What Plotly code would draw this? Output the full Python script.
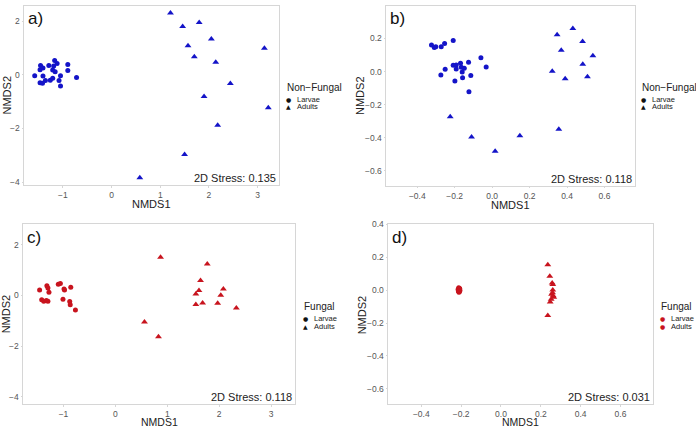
import plotly.graph_objects as go

# ---------------- data ----------------
# Panel a) Non-Fungal (NMDS1, NMDS2)
a_larvae_x = [-1.58, -1.46, -1.47, -1.41, -1.41, -1.47, -1.42, -1.36, -1.29, -1.26, -1.21,
              -1.21, -1.19, -1.17, -1.16, -1.12, -1.05, -1.08, -1.05, -0.90, -0.90, -0.72]
a_larvae_y = [-0.03, 0.35, 0.19, 0.26, -0.04, -0.29, -0.31, -0.21, 0.35, -0.20, -0.13,
              0.18, 0.33, 0.54, 0.12, 0.42, -0.03, -0.21, -0.42, 0.39, 0.16, -0.10]
a_adults_x = [1.21, 1.46, 1.80, 1.57, 2.05, 1.70, 2.14, 2.44, 1.90, 2.18, 1.50, 0.58, 3.14, 3.22]
a_adults_y = [2.31, 1.80, 1.95, 1.09, 1.34, 0.68, 0.47, -0.32, -0.81, -1.88, -2.97, -3.84, 0.99, -1.23]

# Panel b) Non-Fungal
b_larvae_x = [-0.324, -0.309, -0.301, -0.272, -0.254, -0.208, -0.274, -0.251, -0.208, -0.192, -0.192,
              -0.199, -0.169, -0.165, -0.149, -0.160, -0.158, -0.126, -0.114, -0.124, -0.060, -0.032]
b_larvae_y = [0.160, 0.146, 0.150, 0.150, 0.170, 0.188, -0.021, 0.014, 0.038, 0.040, 0.016,
              -0.057, 0.050, 0.026, 0.020, -0.002, -0.037, 0.056, -0.024, -0.122, 0.083, 0.028]
b_adults_x = [-0.224, -0.110, 0.016, 0.148, 0.321, 0.347, 0.369, 0.390, 0.356, 0.431, 0.483, 0.538, 0.484, 0.509]
b_adults_y = [-0.273, -0.397, -0.482, -0.389, 0.002, 0.223, 0.129, -0.043, -0.350, 0.261, 0.182, 0.095, 0.044, -0.031]

# Panel c) Fungal
c_larvae_x = [-1.46, -1.32, -1.30, -1.28, -1.42, -1.38, -1.33, -1.30, -1.10, -1.06, -0.99,
              -0.98, -1.01, -0.86, -0.88, -0.87, -0.77]
c_larvae_y = [0.22, 0.39, 0.30, 0.13, -0.17, -0.23, -0.20, -0.23, 0.44, 0.47, 0.26,
              0.22, -0.15, 0.33, -0.24, -0.37, -0.57]
c_adults_x = [0.87, 0.56, 0.83, 1.77, 1.64, 1.61, 1.55, 1.55, 1.68, 2.08, 2.03, 1.97, 2.33]
c_adults_y = [1.51, -1.05, -1.63, 1.24, 0.59, 0.20, 0.06, -0.36, -0.30, 0.26, 0.01, -0.31, -0.49]

# Panel d) Fungal
d_larvae_x = [-0.212, -0.208, -0.215, -0.210, -0.206, -0.213, -0.209, -0.211, -0.207, -0.214]
d_larvae_y = [0.014, 0.010, 0.006, 0.002, -0.002, -0.006, -0.010, -0.013, 0.008, -0.004]
d_adults_x = [0.235, 0.245, 0.257, 0.260, 0.260, 0.254, 0.262, 0.252, 0.247, 0.235, 0.265, 0.259]
d_adults_y = [0.154, 0.085, 0.043, 0.034, 0.000, -0.025, -0.035, -0.055, -0.073, -0.154, -0.043, -0.016]

panel_labels = ["a)", "b)", "c)", "d)"]
stress_labels = ["2D Stress: 0.135", "2D Stress: 0.118", "2D Stress: 0.118", "2D Stress: 0.031"]
legend_titles = ["Non\u2212Fungal", "Non\u2212Fungal", "Fungal", "Fungal"]
group_names = ["Larvae", "Adults"]

BLUE = "#1414c8"
RED = "#c8141e"
W, H = 696, 429
FONT = "Liberation Sans, Arial, sans-serif"


def px(x):
    return x / W


def py(y):
    return 1 - y / H


fig = go.Figure()

# panel geometry (page pixels): left, right, top, bottom
panels = [
    dict(box=(24, 279, 1, 183), xr=[-1.80, 3.44], yr=[-4.11, 2.57], dx=1, dy=2, fmt=None,
         lx=a_larvae_x, ly=a_larvae_y, ax_=a_adults_x, ay_=a_adults_y, color=BLUE,
         leg=(285, 84), syms=["\u25CF", "\u25B2"]),
    dict(box=(386, 635, 1, 184), xr=[-0.567, 0.763], yr=[-0.693, 0.397], dx=0.2, dy=0.2, fmt=".1f",
         lx=b_larvae_x, ly=b_larvae_y, ax_=b_adults_x, ay_=b_adults_y, color=BLUE,
         leg=(640, 84), syms=["\u25CF", "\u25B2"]),
    dict(box=(23, 295, 223, 406), xr=[-1.78, 3.46], yr=[-4.30, 2.81], dx=1, dy=2, fmt=None,
         lx=c_larvae_x, ly=c_larvae_y, ax_=c_adults_x, ay_=c_adults_y, color=RED,
         leg=(302, 307), syms=["\u25CF", "\u25B2"]),
    dict(box=(388, 653, 223, 406), xr=[-0.567, 0.763], yr=[-0.695, 0.40], dx=0.2, dy=0.2, fmt=".1f",
         lx=d_larvae_x, ly=d_larvae_y, ax_=d_adults_x, ay_=d_adults_y, color=RED,
         leg=(659, 307), syms=["\u25CF", "\u25CF"]),
]

annotations = []
for i, p in enumerate(panels):
    n = "" if i == 0 else str(i + 1)
    xa, ya = "x" + n, "y" + n
    l, r, t, b = p["box"]
    fig.add_trace(go.Scatter(x=p["lx"], y=p["ly"], mode="markers", xaxis=xa, yaxis=ya,
                             marker=dict(symbol="circle", size=5, color=p["color"]),
                             showlegend=False, name="Larvae"))
    fig.add_trace(go.Scatter(x=p["ax_"], y=p["ay_"], mode="markers", xaxis=xa, yaxis=ya,
                             marker=dict(symbol="triangle-up", size=6, color=p["color"]),
                             showlegend=False, name="Adults"))
    axcommon = dict(showgrid=False, zeroline=False, showline=True, mirror=True,
                    linecolor="#d6d6d6", linewidth=1, ticks="outside", ticklen=1.5,
                    tickcolor="#d6d6d6", tickfont=dict(size=8.5, color="#555555", family=FONT))
    fig.layout["xaxis" + n] = dict(domain=[px(l), px(r)], range=p["xr"], dtick=p["dx"],
                                   tick0=0, anchor=ya, tickformat=p["fmt"], **axcommon)
    fig.layout["yaxis" + n] = dict(domain=[py(b), py(t)], range=p["yr"], dtick=p["dy"],
                                   tick0=0, anchor=xa, tickformat=p["fmt"], **axcommon)
    # panel label
    annotations.append(dict(x=px(l + 2), y=py(t + 13), xref="paper", yref="paper",
                            text=panel_labels[i], showarrow=False, xanchor="left", yanchor="middle",
                            font=dict(size=17, color="#111111", family=FONT)))
    # stress label
    annotations.append(dict(x=px(r - 1), y=py(b - 7), xref="paper", yref="paper",
                            text=stress_labels[i], showarrow=False, xanchor="right", yanchor="middle",
                            font=dict(size=11, color="#222222", family=FONT)))
    # axis titles
    annotations.append(dict(x=px((l + r) / 2), y=py(b + (19 if i < 2 else 17.5)), xref="paper", yref="paper",
                            text="NMDS1", showarrow=False, xanchor="center", yanchor="middle",
                            font=dict(size=(11 if i < 2 else 10.5), color="#222222", family=FONT)))
    annotations.append(dict(x=px(l - 17 if i % 2 == 0 else l - 26), y=py((t + b) / 2), xref="paper",
                            yref="paper", text="NMDS2", showarrow=False, textangle=-90,
                            xanchor="center", yanchor="middle",
                            font=dict(size=11, color="#222222", family=FONT)))
    # legend (drawn as text)
    lx0, ly0 = p["leg"]
    annotations.append(dict(x=px(lx0), y=py(ly0), xref="paper", yref="paper",
                            text=legend_titles[i], showarrow=False, xanchor="left", yanchor="middle",
                            font=dict(size=10, color="#222222", family=FONT)))
    for k, g in enumerate(group_names):
        yy = ly0 + 12 + 7.5 * k
        annotations.append(dict(x=px(lx0 + 3), y=py(yy), xref="paper", yref="paper",
                                text=p["syms"][k], showarrow=False, xanchor="center", yanchor="middle",
                                font=dict(size=6, color=("#111111" if i < 3 else RED), family="DejaVu Sans")))
        annotations.append(dict(x=px(lx0 + 10), y=py(yy), xref="paper", yref="paper",
                                text=g, showarrow=False, xanchor="left", yanchor="middle",
                                font=dict(size=7.5, color="#222222", family=FONT)))

fig.update_layout(width=W, height=H, margin=dict(l=0, r=0, t=0, b=0),
                  paper_bgcolor="white", plot_bgcolor="white", showlegend=False,
                  annotations=annotations, font=dict(family=FONT))

# remove the default page margin so the figure fills the 696x429 window exactly
fig.write_html("out.html", config={"displayModeBar": False},
               post_script="document.body.style.margin='0px';document.body.style.overflow='hidden';")
